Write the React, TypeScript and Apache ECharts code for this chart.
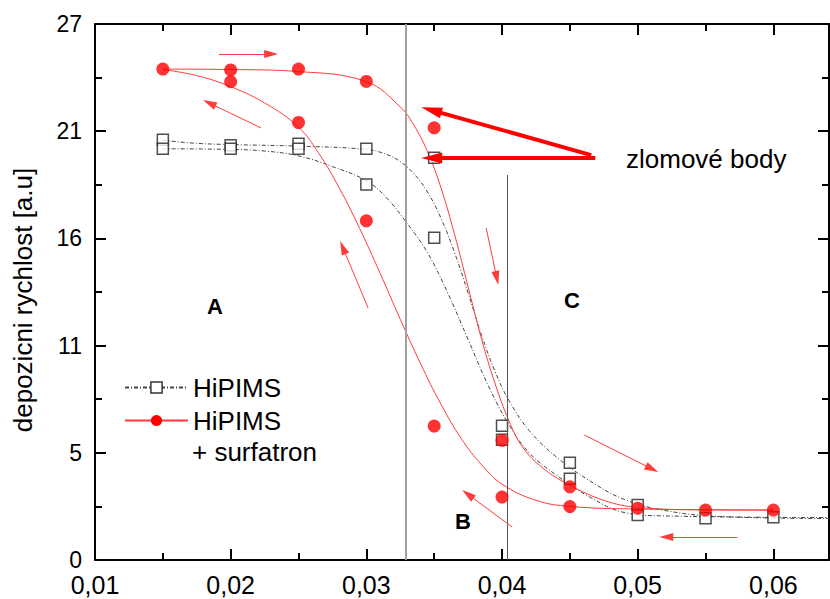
import React, { useEffect, useRef } from "react";
import * as echarts from "echarts";

// ---- data ----
const hipimsPoints: [number, number][] = [
  [0.015, 20.78], [0.015, 20.33], [0.02, 20.5], [0.02, 20.33],
  [0.025, 20.58], [0.025, 20.33], [0.03, 20.33], [0.03, 18.57],
  [0.035, 19.89], [0.035, 15.93], [0.04, 6.64], [0.04, 5.95],
  [0.045, 4.81], [0.045, 4.02], [0.05, 2.72], [0.05, 2.22],
  [0.055, 2.06], [0.06, 2.11],
];
const surfPoints: [number, number][] = [
  [0.015, 24.27], [0.02, 24.23], [0.02, 23.65], [0.025, 24.27],
  [0.025, 21.63], [0.03, 23.66], [0.03, 16.77], [0.035, 21.37],
  [0.035, 6.62], [0.04, 5.92], [0.04, 3.11], [0.045, 3.62],
  [0.045, 2.64], [0.05, 2.56], [0.055, 2.47], [0.06, 2.47],
];
// fitted curves
const hipimsFitA: [number, number][] = [
  [0.015, 20.75], [0.0175, 20.6], [0.02, 20.54], [0.025, 20.46], [0.03, 20.3],
  [0.0315, 20.05], [0.0325, 19.7], [0.0335, 19.1], [0.0345, 18.2], [0.0355, 16.9],
  [0.0365, 15.2], [0.0375, 13.2], [0.0385, 11.1], [0.0395, 9.3], [0.0405, 7.9],
  [0.042, 6.4], [0.044, 5.1], [0.0465, 3.9], [0.049, 3.0], [0.052, 2.45],
  [0.056, 2.15], [0.0641, 2.05],
];
const hipimsFitB: [number, number][] = [
  [0.015, 20.33], [0.02, 20.3], [0.0225, 20.22], [0.025, 19.98], [0.0275, 19.45],
  [0.03, 18.75], [0.0315, 17.9], [0.033, 16.65], [0.0345, 15.2], [0.036, 13.2],
  [0.0375, 10.9], [0.039, 8.6], [0.0405, 6.7], [0.042, 5.3], [0.044, 4.2],
  [0.0465, 3.1], [0.049, 2.35], [0.052, 2.18], [0.0641, 2.1],
];
const surfFitUp: [number, number][] = [
  [0.015, 24.27], [0.02, 24.25], [0.025, 24.15], [0.03, 23.65], [0.0325, 22.4],
  [0.0335, 21.5], [0.0345, 20.2], [0.0355, 18.4], [0.0365, 16.1], [0.0375, 13.5],
  [0.0385, 10.9], [0.0395, 8.7], [0.0405, 6.9], [0.0415, 5.6], [0.043, 4.55],
  [0.045, 3.7], [0.0475, 2.95], [0.05, 2.6], [0.055, 2.48], [0.06, 2.47],
];
const surfFitDown: [number, number][] = [
  [0.015, 24.25], [0.0175, 23.95], [0.02, 23.4], [0.0225, 22.6], [0.025, 21.4],
  [0.0265, 20.1], [0.028, 18.4], [0.0295, 16.4], [0.031, 14.2], [0.0325, 11.9],
  [0.034, 9.7], [0.0355, 7.7], [0.037, 6.0], [0.0385, 4.7], [0.04, 3.75],
  [0.0425, 2.95], [0.045, 2.65], [0.05, 2.52], [0.06, 2.47],
];
// annotation arrows: [x1, y1, x2, y2] in data units (x2, y2 = centre of the arrow head)
const thinArrows: number[][] = [
  [0.019145, 25.02, 0.022980, 25.02],
  [0.022242, 21.36, 0.018430, 22.59],
  [0.030133, 12.46, 0.028265, 15.45],
  [0.038835, 16.41, 0.039615, 13.94],
  [0.046062, 6.18, 0.051055, 4.50],
  [0.057345, 1.14, 0.052110, 1.14],
  [0.040752, 1.63, 0.037480, 3.25],
];
const thickArrows: number[][] = [
  [0.046578, 20.02, 0.034790, 22.24],
  [0.046873, 19.88, 0.034815, 19.88],
];
const breakLineGray = 0.03293;
const breakLineDark = 0.04041;
const breakLineDarkTop = 19.03;
const xMin = 0.01, xMax = 0.0641, xStep = 0.01;
const yMin = 0, yMax = 26.5, yStep = 5.3;

const FONT = "'Liberation Sans', Arial, sans-serif";

export default function App() {
  const ref = useRef<HTMLDivElement>(null);
  useEffect(() => {
    if (!ref.current) return;
    const chart = echarts.init(ref.current, undefined, { renderer: "svg" });
    const tickStyle = { color: "#000", width: 2 };
    const xBase = (pos: "bottom" | "top", labels: boolean) => ({
      type: "value", position: pos, min: xMin, max: xMax, interval: xStep,
      axisLine: { show: true, onZero: false, lineStyle: { color: "#000", width: 2 } },
      axisTick: { show: true, inside: true, length: 11, lineStyle: tickStyle },
      minorTick: { show: true, splitNumber: 2, length: 7, lineStyle: tickStyle },
      splitLine: { show: false },
      axisLabel: {
        show: labels, showMaxLabel: false, fontSize: 25, lineHeight: 23, color: "#000", fontFamily: FONT, margin: 13,
        formatter: (v: number) => v.toFixed(2).replace(".", ","),
      },
    });
    const yBase = (pos: "left" | "right", labels: boolean) => ({
      type: "value", position: pos, min: yMin, max: yMax, interval: yStep,
      axisLine: { show: true, onZero: false, lineStyle: { color: "#000", width: 2 } },
      axisTick: { show: true, inside: true, length: 11, lineStyle: tickStyle },
      minorTick: { show: true, splitNumber: 2, length: 7, lineStyle: tickStyle },
      splitLine: { show: false },
      axisLabel: {
        show: labels, fontSize: 23, lineHeight: 20, padding: [0, 0, 8, 0], color: "#000", fontFamily: FONT, margin: 13,
        formatter: (v: number) => String(Math.round(v)),
      },
    });
    const mkArrows = (arr: number[][], color: string, width: number) =>
      arr.map((a) => [
        { coord: [a[0], a[1]], lineStyle: { color, width, type: "solid" } },
        { coord: [a[2], a[3]] },
      ]);
    const blackLine = { color: "#444", width: 1, type: [4, 2, 1, 2] };
    chart.setOption({
      animation: false,
      grid: { left: 95, right: 1, top: 24, bottom: 39 },
      xAxis: [xBase("bottom", true), xBase("top", false)],
      yAxis: [yBase("left", true), yBase("right", false)],
      legend: {
        orient: "vertical", left: 124, top: 371, padding: 0, itemWidth: 63, itemHeight: 14, itemGap: 0,
        selectedMode: false,
        data: [
          { name: "HiPIMS", itemStyle: { color: "#fff", borderColor: "#333", borderWidth: 1.5 } },
          { name: "HiPIMS + surfatron" },
        ],
        formatter: (n: string) => (n === "HiPIMS + surfatron" ? "HiPIMS" : n),
        textStyle: { fontSize: 26, color: "#000", fontFamily: FONT, lineHeight: 33 },
      },
      series: [
        {
          name: "HiPIMS", type: "line", data: hipimsFitA, smooth: 0.4,
          showSymbol: false, symbol: "rect", symbolSize: 11, color: "#333",
          itemStyle: { color: "#fff", borderColor: "#333", borderWidth: 1.5 },
          lineStyle: blackLine, z: 2,
          markLine: {
            silent: true, symbol: ["none", "none"], label: { show: false },
            data: [
              [{ coord: [breakLineGray, yMin], lineStyle: { color: "#a0a0a0", width: 2, type: "solid" } }, { coord: [breakLineGray, yMax] }],
              [{ coord: [breakLineDark, yMin], lineStyle: { color: "#555", width: 1, type: "solid" } }, { coord: [breakLineDark, breakLineDarkTop] }],
            ],
          },
        },
        {
          name: "HiPIMS", type: "line", data: hipimsFitB, smooth: 0.4,
          showSymbol: false, color: "#333", lineStyle: blackLine, z: 2,
        },
        {
          name: "HiPIMS + surfatron", type: "line", data: surfFitUp, smooth: 0.4,
          showSymbol: false, symbol: "circle", symbolSize: 13, color: "#ff0000",
          lineStyle: { color: "#ff3b3b", width: 1 }, z: 3,
          markLine: {
            silent: true, symbol: ["none", "triangle"], symbolSize: [8, 14], label: { show: false },
            data: mkArrows(thinArrows, "#ff3b3b", 1),
          },
        },
        {
          name: "HiPIMS + surfatron", type: "line", data: surfFitDown, smooth: 0.4,
          showSymbol: false, color: "#ff0000", lineStyle: { color: "#ff3b3b", width: 1 }, z: 3,
          markLine: {
            silent: true, symbol: ["none", "triangle"], symbolSize: [11, 21], label: { show: false },
            data: mkArrows(thickArrows, "#ff0000", 4),
          },
        },
        {
          name: "HiPIMS", type: "scatter", data: hipimsPoints, symbol: "rect", symbolSize: 11,
          itemStyle: { color: "#fff", borderColor: "#222", borderWidth: 1.5 }, z: 4,
        },
        {
          name: "HiPIMS + surfatron", type: "scatter", data: surfPoints, symbol: "circle", symbolSize: 13,
          itemStyle: { color: "#ff0000" }, z: 5,
        },
      ],
      graphic: [
        { type: "text", x: 23, y: 300, rotation: Math.PI / 2, style: { text: "depozicni rychlost [a.u]", fontSize: 26, fontFamily: FONT, fill: "#000", align: "center", verticalAlign: "middle" } },
        { type: "text", x: 626, y: 159, style: { text: "zlomové body", fontSize: 26, fontFamily: FONT, fill: "#000", align: "left", verticalAlign: "middle" } },
        { type: "text", x: 192, y: 452, style: { text: "+ surfatron", fontSize: 26, fontFamily: FONT, fill: "#000", align: "left", verticalAlign: "middle" } },
        { type: "text", x: 215, y: 306, style: { text: "A", fontSize: 22, fontWeight: "bold", fontFamily: FONT, fill: "#000", align: "center", verticalAlign: "middle" } },
        { type: "text", x: 463, y: 521, style: { text: "B", fontSize: 22, fontWeight: "bold", fontFamily: FONT, fill: "#000", align: "center", verticalAlign: "middle" } },
        { type: "text", x: 572, y: 300, style: { text: "C", fontSize: 22, fontWeight: "bold", fontFamily: FONT, fill: "#000", align: "center", verticalAlign: "middle" } },
      ],
    });
    return () => chart.dispose();
  }, []);
  return <div ref={ref} style={{ position: "absolute", left: 0, top: 0, width: 830, height: 599, background: "#fff" }} />;
}
